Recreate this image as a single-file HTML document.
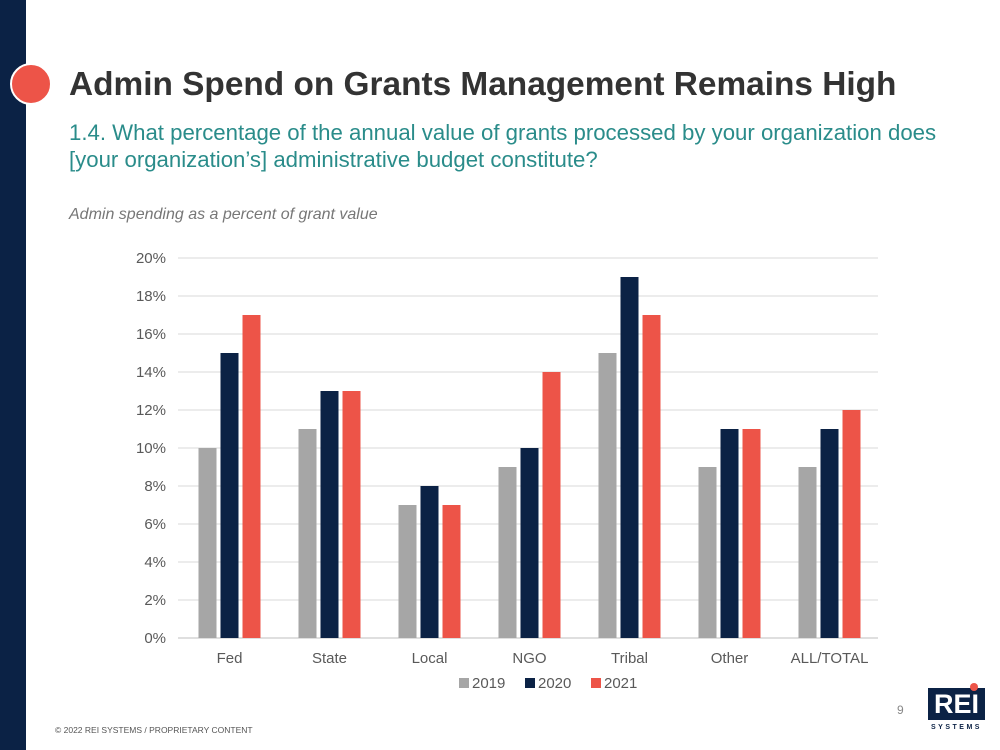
<!DOCTYPE html>
<html><head><meta charset="utf-8"><style>
body{margin:0;width:1000px;height:750px;position:relative;background:#fff;font-family:"Liberation Sans",sans-serif;overflow:hidden}
.abs{position:absolute}
</style></head><body>
<div class="abs" style="left:0;top:0;width:26px;height:750px;background:#0b2245"></div>
<div class="abs" style="left:10px;top:63px;width:38px;height:38px;border-radius:50%;background:#ed5448;border:2px solid #fff"></div>
<div class="abs" style="left:69px;top:66px;font-size:33.4px;font-weight:bold;color:#333">Admin Spend on Grants Management Remains High</div>
<div class="abs" style="left:69px;top:119px;font-size:22.2px;color:#2a8c8a;line-height:27px">1.4. What percentage of the annual value of grants processed by your organization does<br>[your organization’s] administrative budget constitute?</div>
<div class="abs" style="left:69px;top:206px;font-size:16px;font-style:italic;color:#777">Admin spending as a percent of grant value</div>
<svg class="abs" style="left:0;top:0" width="1000" height="750" id="chart"></svg>
<div class="abs" style="left:897px;top:703px;font-size:12px;color:#888">9</div>
<div class="abs" style="left:928px;top:688px;width:57px;height:32px;background:#0b2245;color:#fff;font-weight:bold;font-size:27px;text-align:center;line-height:33px">REI</div>
<div class="abs" style="left:970px;top:683px;width:8px;height:8px;border-radius:50%;background:#ed5448"></div>
<div class="abs" style="left:928px;top:724px;width:57px;font-size:7px;letter-spacing:2.5px;color:#0b2245;text-align:center;font-weight:bold">SYSTEMS</div>
<div class="abs" style="left:55px;top:725px;font-size:8.5px;color:#555">© 2022 REI SYSTEMS / PROPRIETARY CONTENT</div>
<script>
const categories=["Fed","State","Local","NGO","Tribal","Other","ALL/TOTAL"];
const seriesNames=["2019","2020","2021"];
const v2019=[10,11,7,9,15,9,9];
const v2020=[15,13,8,10,19,11,11];
const v2021=[17,13,7,14,17,11,12];
const ticks=[0,2,4,6,8,10,12,14,16,18,20];
const colors=["#a6a6a6","#0b2245","#ed5448"];
const svg=document.getElementById('chart');const NS="http://www.w3.org/2000/svg";
const x0=178,x1=878,y0=638,y1=258;
const y=v=>y0-(v/20)*(y0-y1);
const band=(x1-x0)/categories.length;
const xc=i=>x0+1.5+band*(i+0.5);
function mk(t,a){const e=document.createElementNS(NS,t);for(const k in a)e.setAttribute(k,a[k]);svg.appendChild(e);return e;}
ticks.forEach(t=>{
 const l=mk('line',{x1:x0,x2:x1,y1:y(t),y2:y(t),stroke:t===0?'#bfbfbf':'#d9d9d9','stroke-width':1});
 
 
 const tx=mk('text',{x:166,y:y(t)+5,'text-anchor':'end','font-size':15,fill:'#595959','font-family':'Liberation Sans'});
 tx.textContent=t+'%';
 
 
});
const all=[v2019,v2020,v2021];const bw=18,off=22;
categories.forEach((c,i)=>{
 all.forEach((s,j)=>{
  const cx=xc(i)+(j-1)*off;
  const r=mk('rect',{x:cx-bw/2,y:y(s[i]),width:bw,height:y0-y(s[i]),fill:colors[j]});
  
  
 });
 const t=mk('text',{x:xc(i),y:663,'text-anchor':'middle','font-size':15,fill:'#595959','font-family':'Liberation Sans'});
 t.textContent=c;
 
 
});
const lx=[459,525,591];
seriesNames.forEach((n,j)=>{
 const r=mk('rect',{x:lx[j],y:678,width:10,height:10,fill:colors[j]});
 
 
 const t=mk('text',{x:lx[j]+13,y:688,'font-size':15,fill:'#595959','font-family':'Liberation Sans'});
 t.textContent=n;
 
 
});
</script>
</body></html>
